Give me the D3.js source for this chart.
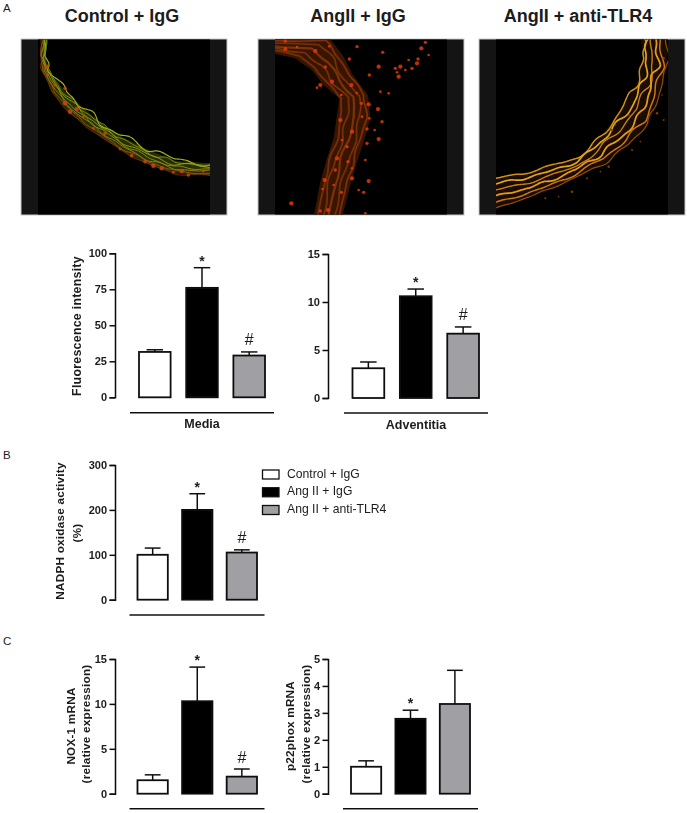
<!DOCTYPE html>
<html><head><meta charset="utf-8">
<script src="https://cdn.jsdelivr.net/npm/d3@7"></script>
<style>
html,body{margin:0;padding:0;background:#fff}
svg{display:block}
text{font-family:"Liberation Sans",Arial,sans-serif;fill:#1c1c1c}
</style></head><body>
<svg id="c" width="687" height="813"></svg>
<script>
const groups = ["Control + IgG","Ang II + IgG","Ang II + anti-TLR4"];
const groupFill = ["#ffffff","#000000","#a0a0a4"];
const mediaValues = [31.5,76,29];
const mediaErrTop = [33,90,31.5];
const adventitiaValues = [3.1,10.6,6.7];
const adventitiaErrTop = [3.75,11.35,7.4];
const nadphValues = [100,200,105];
const nadphErrTop = [115,236,111];
const noxValues = [1.5,10.3,1.9];
const noxErrTop = [2.1,14.1,2.75];
const p22Values = [1.0,2.78,3.33];
const p22ErrTop = [1.22,3.1,4.58];
const mediaTicks = [0,25,50,75,100];
const adventitiaTicks = [0,5,10,15];
const nadphTicks = [0,100,200,300];
const noxTicks = [0,5,10,15];
const p22Ticks = [0,1,2,3,4,5];
const mediaMarks = ["","*","#"];
const adventitiaMarks = ["","*","#"];
const nadphMarks = ["","*","#"];
const noxMarks = ["","*","#"];
const p22Marks = ["","*",""];
const imageTitles = ["Control + IgG","AngII + IgG","AngII + anti-TLR4"];

// Micrograph guides, in crop coordinates
const wall1Inner = [[100,0],[88,60],[105,110],[150,170],[200,215],[260,265],[320,305],[400,345],[480,378],[590,385]];
const wall1Outer = [[82,0],[76,60],[80,105],[112,172],[170,240],[240,292],[320,348],[400,388],[480,415],[590,422]];
const wall2Inner = [[60,55],[130,70],[180,105],[215,150],[262,190],[255,240],[245,310],[225,370],[205,440],[185,545]];
const wall2Outer = [[60,10],[232,10],[272,60],[302,120],[348,180],[355,250],[335,320],[312,390],[295,450],[270,545]];
const wall3Inner = [[505,10],[515,70],[500,130],[470,190],[420,262],[370,320],[320,365],[240,392],[150,415],[65,430]];
const wall3Outer = [[585,10],[585,100],[560,190],[530,270],[470,330],[400,385],[310,430],[220,470],[150,495],[65,525]];
const dots1 = [[95,95],[98,118],[150,160],[165,230],[205,245],[270,295],[185,222],[315,342],[390,380],[440,400],[475,412],[520,420],[500,408],[565,408],[120,150],[150,205],[235,280],[350,362],[415,392]];
const dots2 = [[100,42],[135,36],[100,18],[190,48],[232,34],[220,96],[240,140],[268,180],[292,72],[298,150],[314,174],[328,205],[350,208],[352,250],[345,282],[300,290],[270,315],[285,335],[255,370],[300,400],[288,380],[218,435],[245,450],[268,472],[300,430],[212,462],[205,528],[228,525],[320,465],[335,472],[350,438],[340,375],[345,325],[380,312],[368,285],[390,260],[378,222],[385,170],[352,120],[205,150],[195,158],[315,35],[380,95],[410,175],[430,100],[445,95],[460,105],[480,100],[495,85],[470,75],[498,72],[508,40],[530,60],[520,22],[440,125],[435,112],[392,52],[118,505],[340,535],[250,405],[265,255],[330,245]];
const dots3 = [[575,70],[570,180],[575,255],[555,235],[505,320],[480,345],[410,395],[385,410],[345,430],[300,470],[260,485],[220,490],[420,285],[430,270],[470,240]];

const svg = d3.select("#c");
const defs = svg.append("defs");
function blur(id,s){
  defs.append("filter").attr("id",id).attr("x","-5%").attr("y","-5%").attr("width","110%").attr("height","110%")
    .append("feGaussianBlur").attr("stdDeviation",s);
}
blur("soft",0.7); blur("ink",0.3);

function panelLetter(t,x,y){ svg.append("text").attr("x",x).attr("y",y).attr("font-size",11.5).text(t); }
panelLetter("A",3,12); panelLetter("B",3,459); panelLetter("C",3,645);

function guideAt(g,u){
  const p=u*(g.length-1), i=Math.min(g.length-2,Math.floor(p)), f=p-i;
  return [g[i][0]+(g[i+1][0]-g[i][0])*f, g[i][1]+(g[i+1][1]-g[i][1])*f];
}
function fiberPoints(inner,outer,t,amp,freq,phase,taper){
  const pts=[];
  for(let k=0;k<=160;k++){
    const u=k/160,a=guideAt(inner,u),b=guideAt(outer,u);
    const nx=b[0]-a[0],ny=b[1]-a[1],n=Math.hypot(nx,ny)||1;
    const env=amp*(taper[0]+(taper[1]-taper[0])*u);
    const w=env*(0.7*Math.sin(freq*u+phase)+0.45*Math.sin(freq*1.73*u+phase*1.7)+0.3*Math.sin(freq*0.37*u+phase*2.3));
    pts.push([a[0]+nx*t+nx/n*w,a[1]+ny*t+ny/n*w]);
  }
  return pts;
}
function micrograph(i,left,cfg){
  const top=39,w=206,h=176,band=17;
  svg.append("text").attr("x",cfg.titleX).attr("y",22).attr("text-anchor","middle")
    .attr("font-size",18).attr("font-weight","bold").text(imageTitles[i]);
  const g=svg.append("g");
  g.append("rect").attr("x",left).attr("y",top).attr("width",w).attr("height",h).attr("fill","#141414").attr("stroke","#c8c8c8").attr("stroke-width",1);
  g.append("rect").attr("x",left+band).attr("y",top+0.5).attr("width",w-2*band).attr("height",h-1).attr("fill","#000");
  const cid="clip"+i;
  defs.append("clipPath").attr("id",cid).append("rect").attr("x",left+band).attr("y",top+0.5).attr("width",w-2*band).attr("height",h-1);
  const sx=d3.scaleLinear().domain([0,3]).range([cfg.pageX0,cfg.pageX0+1]);
  const sy=d3.scaleLinear().domain([0,3]).range([35,36]);
  const line=d3.line().x(d=>sx(d[0])).y(d=>sy(d[1])).curve(d3.curveCatmullRom);
  const m=g.append("g").attr("clip-path",`url(#${cid})`).append("g").attr("filter","url(#soft)");
  const n=60, poly=[];
  for(let k=0;k<=n;k++) poly.push(guideAt(cfg.inner,k/n));
  for(let k=n;k>=0;k--) poly.push(guideAt(cfg.outer,k/n));
  m.append("path").attr("d",line(poly)+"Z").attr("fill",cfg.wallFill).attr("fill-opacity",cfg.wallOpacity);
  cfg.fibers.forEach(f=>{
    m.append("path").attr("d",line(fiberPoints(cfg.inner,cfg.outer,f[0],f[1],f[2],f[3],cfg.taper)))
     .attr("fill","none").attr("stroke",f[4]).attr("stroke-width",f[5]).attr("stroke-opacity",f[6]);
  });
  m.selectAll("circle").data(cfg.dots).join("circle").attr("cx",d=>sx(d[0])).attr("cy",d=>sy(d[1]))
   .attr("r",(d,j)=>cfg.dotR*(j%3===0?1.25:j%3===1?0.8:1)).attr("fill",cfg.dotFill).attr("fill-opacity",cfg.dotOpacity);
}
micrograph(0,21,{titleX:122,pageX0:15,inner:wall1Inner,outer:wall1Outer,wallFill:"#343a06",wallOpacity:0.8,taper:[0.8,1],dotR:1.8,dotFill:"#c8480c",dotOpacity:0.85,dots:dots1,fibers:[
 [-0.05,10,34,0.4,"#a0b018",1.2,1],
 [0.15,6,40,1.4,"#7c9812",1,0.95],
 [0.32,5,36,2.2,"#94a414",1,0.95],
 [0.5,4,44,3.1,"#869a12",1,0.9],
 [0.66,4,38,4.2,"#988a14",1,0.9],
 [0.82,3,42,5.1,"#9c6210",1,0.85],
 [1.0,3,36,0.7,"#8c340a",1.1,0.75]]});
micrograph(1,258,{titleX:358,pageX0:252,inner:wall2Inner,outer:wall2Outer,wallFill:"#3c1804",wallOpacity:0.95,taper:[1,1],dotR:1.7,dotFill:"#e03a08",dotOpacity:0.85,dots:dots2,fibers:[
 [0.12,4,22,0.4,"#74300a",2,0.9],
 [0.3,5,26,1.4,"#7c3208",1.8,0.9],
 [0.5,5,20,2.4,"#843608",2.2,0.9],
 [0.7,5,24,3.3,"#7a3008",1.8,0.9],
 [0.88,4,28,4.4,"#843208",1.8,0.9]]});
micrograph(2,479,{titleX:578,pageX0:472,inner:wall3Inner,outer:wall3Outer,wallFill:"#241002",wallOpacity:0.7,taper:[2,0.6],dotR:1,dotFill:"#8c4408",dotOpacity:0.9,dots:dots3,fibers:[
 [0.02,5,30,0.6,"#d09018",1.5,1],
 [0.2,5,36,1.6,"#e0a61e",1.7,1],
 [0.4,5,28,2.7,"#c87e14",1.4,1],
 [0.6,5,40,3.6,"#e49a18",1.8,1],
 [0.8,4,32,4.6,"#cc7812",1.5,1],
 [0.97,3,38,5.6,"#a0520c",1.2,0.9]]});

function barChart(o){
  const g=svg.append("g").attr("filter","url(#ink)");
  const y=d3.scaleLinear().domain(o.domain).range([o.y0,o.yTop]);
  const x=d3.scaleBand().domain(d3.range(3)).range(o.xRange).paddingInner(o.pad);
  const axis=d3.axisLeft(y).tickValues(o.ticks).tickSize(5.5).tickPadding(2.5).tickFormat(d3.format("d"));
  const ax=g.append("g").attr("transform",`translate(${o.axisX},0)`).call(axis);
  ax.select(".domain").attr("stroke","#111").attr("stroke-width",1.5);
  ax.selectAll(".tick line").attr("stroke","#111").attr("stroke-width",1.5);
  ax.selectAll("text").attr("font-size",11).attr("font-weight","bold").attr("font-family",'"Liberation Sans",Arial,sans-serif');
  o.values.forEach((v,i)=>{
    const cx=x(i)+x.bandwidth()/2, cap=x.bandwidth()*0.26;
    g.append("line").attr("x1",cx).attr("x2",cx).attr("y1",y(v)).attr("y2",y(o.err[i])).attr("stroke","#111").attr("stroke-width",1.5);
    g.append("line").attr("x1",cx-cap).attr("x2",cx+cap).attr("y1",y(o.err[i])).attr("y2",y(o.err[i])).attr("stroke","#111").attr("stroke-width",1.5);
    g.append("rect").attr("x",x(i)).attr("y",y(v)).attr("width",x.bandwidth()).attr("height",y(0)-y(v))
      .attr("fill",groupFill[i]).attr("stroke","#111").attr("stroke-width",1.8);
    const m=o.marks[i];
    if(m==="*") g.append("text").attr("x",cx).attr("y",y(o.err[i])-2).attr("text-anchor","middle").attr("font-size",14).attr("font-weight","bold").text("*");
    if(m==="#") g.append("text").attr("x",cx).attr("y",y(o.err[i])-6.5).attr("text-anchor","middle").attr("font-size",16).text("#");
  });
  g.append("line").attr("x1",o.under[0]).attr("x2",o.under[1]).attr("y1",o.underY).attr("y2",o.underY).attr("stroke","#111").attr("stroke-width",1.4);
  if(o.xLabel) g.append("text").attr("x",(o.under[0]+o.under[1])/2).attr("y",o.underY+15.5).attr("text-anchor","middle").attr("font-size",12.5).attr("font-weight","bold").text(o.xLabel);
  o.title.forEach(t=>{
    g.append("text").attr("transform",`translate(${t[1]},${t[2]}) rotate(-90)`).attr("text-anchor","middle").attr("dominant-baseline","middle")
      .attr("font-size",o.titleSize).attr("font-weight","bold").attr("letter-spacing",0.25).text(t[0]);
  });
}
barChart({values:mediaValues,err:mediaErrTop,marks:mediaMarks,ticks:mediaTicks,domain:[0,100],y0:397.3,yTop:253.3,axisX:115,xRange:[139,265],pad:0.33,under:[130,274],underY:412.7,xLabel:"Media",titleSize:12.4,title:[["Fluorescence intensity",78,326]]});
barChart({values:adventitiaValues,err:adventitiaErrTop,marks:adventitiaMarks,ticks:adventitiaTicks,domain:[0,15],y0:398,yTop:254,axisX:328,xRange:[352.5,479],pad:0.33,under:[344,488],underY:413,xLabel:"Adventitia",titleSize:12,title:[]});
barChart({values:nadphValues,err:nadphErrTop,marks:nadphMarks,ticks:nadphTicks,domain:[0,300],y0:599.7,yTop:465,axisX:115,xRange:[137.5,257],pad:0.32,under:[129.5,264.5],underY:615,titleSize:11.7,title:[["NADPH oxidase activity",61,531],["(%)",78,533]]});
barChart({values:noxValues,err:noxErrTop,marks:noxMarks,ticks:noxTicks,domain:[0,15],y0:793.7,yTop:659,axisX:115,xRange:[137.5,257],pad:0.32,under:[129.5,264.5],underY:808.7,titleSize:11.7,title:[["NOX-1 mRNA",72,726],["(relative expression)",87,724]]});
barChart({values:p22Values,err:p22ErrTop,marks:p22Marks,ticks:p22Ticks,domain:[0,5],y0:793.7,yTop:659,axisX:328,xRange:[351,470],pad:0.32,under:[343,478],underY:808.7,titleSize:11.7,title:[["p22phox mRNA",291,726],["(relative expression)",307,724]]});

const legendY=d3.scalePoint().domain(groups).range([474.5,510]);
const lg=svg.append("g").attr("filter","url(#ink)");
groups.forEach((g,i)=>{
  lg.append("rect").attr("x",262.5).attr("y",legendY(g)-4.5).attr("width",16.5).attr("height",9).attr("fill",groupFill[i]).attr("stroke","#111").attr("stroke-width",1.3);
  lg.append("text").attr("x",287).attr("y",legendY(g)).attr("dominant-baseline","middle").attr("font-size",12.2).text(g);
});
</script></body></html>
